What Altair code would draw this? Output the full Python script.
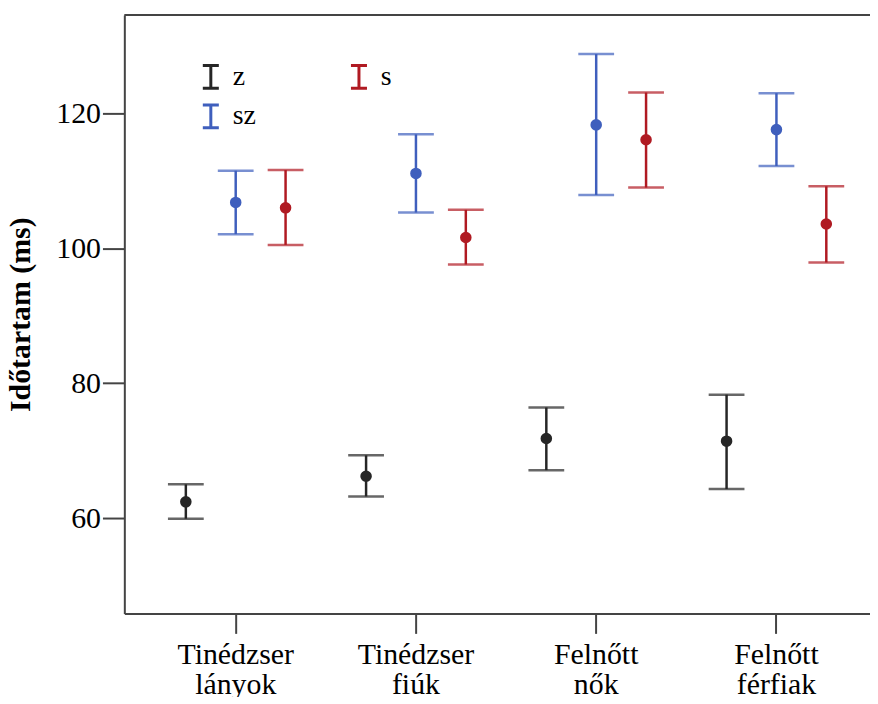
import altair as alt
import pandas as pd

categories = ["Tinédzser lányok", "Tinédzser fiúk", "Felnőtt nők", "Felnőtt férfiak"]
groups = ["z", "sz", "s"]

z_mean = [62.4, 66.2, 71.8, 71.4]
z_low = [59.9, 63.2, 67.1, 64.3]
z_high = [65.0, 69.3, 76.4, 78.3]

sz_mean = [106.8, 111.1, 118.3, 117.6]
sz_low = [102.1, 105.3, 107.9, 112.2]
sz_high = [111.5, 116.9, 128.8, 123.0]

s_mean = [106.0, 101.6, 116.1, 103.6]
s_low = [100.5, 97.6, 109.0, 97.9]
s_high = [111.6, 105.7, 123.1, 109.2]

colors = ["#262626", "#3f5fbd", "#b01a22"]

rows = []
for g, m, lo, hi in [("z", z_mean, z_low, z_high),
                     ("sz", sz_mean, sz_low, sz_high),
                     ("s", s_mean, s_low, s_high)]:
    for c, mv, lv, hv in zip(categories, m, lo, hi):
        rows.append({"cat": c, "grp": g, "mean": mv, "low": lv, "high": hv})
df = pd.DataFrame(rows)

W, H = 750, 602
FONT = "Liberation Serif"

xenc = alt.X("cat:N", sort=categories, title=None,
             scale=alt.Scale(paddingInner=0.17, paddingOuter=0.1535, align=0.661),
             axis=alt.Axis(labelExpr="split(datum.label, ' ')", labelAngle=0,
                           labelFont=FONT, labelFontSize=30, labelLineHeight=30,
                           labelColor="#000", labelPadding=6, tickSize=20,
                           tickColor="#444", tickWidth=2, domainColor="#444",
                           domainWidth=2, labelBaseline="top"))
xoff = alt.XOffset("grp:N", sort=groups, scale=alt.Scale(domain=groups, paddingInner=0, paddingOuter=0))
yscale = alt.Scale(domain=[45.85, 134.6], nice=False, zero=False)
yenc = alt.Y("low:Q", scale=yscale, title="Időtartam (ms)",
             axis=alt.Axis(values=[60, 80, 100, 120], grid=False, tickSize=22,
                           tickColor="#444", tickWidth=2, domainColor="#444",
                           domainWidth=2, labelFont=FONT, labelFontSize=30,
                           labelColor="#000", labelPadding=2,
                           titleFont=FONT, titleFontSize=30, titleFontWeight="bold",
                           titleColor="#000", titlePadding=20))

color_scale = alt.Scale(domain=["z", "s", "sz"], range=[colors[0], colors[2], colors[1]])
fill_scale = alt.Scale(domain=groups, range=colors)

legend_path = "M-0.7,-1H0.7M0,-1V1M-0.7,1H0.7"

base = alt.Chart(df)

stems = base.mark_rule(strokeWidth=2.5).encode(
    x=xenc, xOffset=xoff, y=yenc, y2="high:Q",
    color=alt.Color("grp:N", scale=color_scale, title=None,
                    legend=alt.Legend(orient="none", legendX=73, legendY=48,
                                      columns=2, direction="horizontal",
                                      symbolType=legend_path, symbolSize=530,
                                      symbolStrokeWidth=3,
                                      labelFont=FONT, labelFontSize=28,
                                      labelColor="#000", labelOffset=8,
                                      columnPadding=88, rowPadding=4)),
)

cap_lo = base.mark_tick(size=36, thickness=2.5).encode(
    x=xenc, xOffset=xoff, y=alt.Y("low:Q", scale=yscale),
    fill=alt.Fill("grp:N", scale=fill_scale, legend=None),
    stroke=alt.value(None),
)
cap_hi = base.mark_tick(size=36, thickness=2.5).encode(
    x=xenc, xOffset=xoff, y=alt.Y("high:Q", scale=yscale),
    fill=alt.Fill("grp:N", scale=fill_scale, legend=None),
    stroke=alt.value(None),
)
points = base.mark_circle(size=135, opacity=1).encode(
    x=xenc, xOffset=xoff, y=alt.Y("mean:Q", scale=yscale),
    fill=alt.Fill("grp:N", scale=fill_scale, legend=None),
)
top_frame = alt.Chart(pd.DataFrame({"a": [0]})).mark_rule(color="#444", strokeWidth=2).encode(
    x=alt.value(0), x2=alt.value(W), y=alt.value(0)
)

chart = alt.layer(stems, cap_lo, cap_hi, points, top_frame).resolve_scale(
    fill="independent"
).properties(
    width=W, height=H,
    autosize=alt.AutoSizeParams(type="none"),
    padding={"left": 117, "top": 5, "right": 0, "bottom": 82},
).configure_view(stroke=None).configure(background="white")

chart.save("out.html", embed_options={"renderer": "svg", "actions": False})
